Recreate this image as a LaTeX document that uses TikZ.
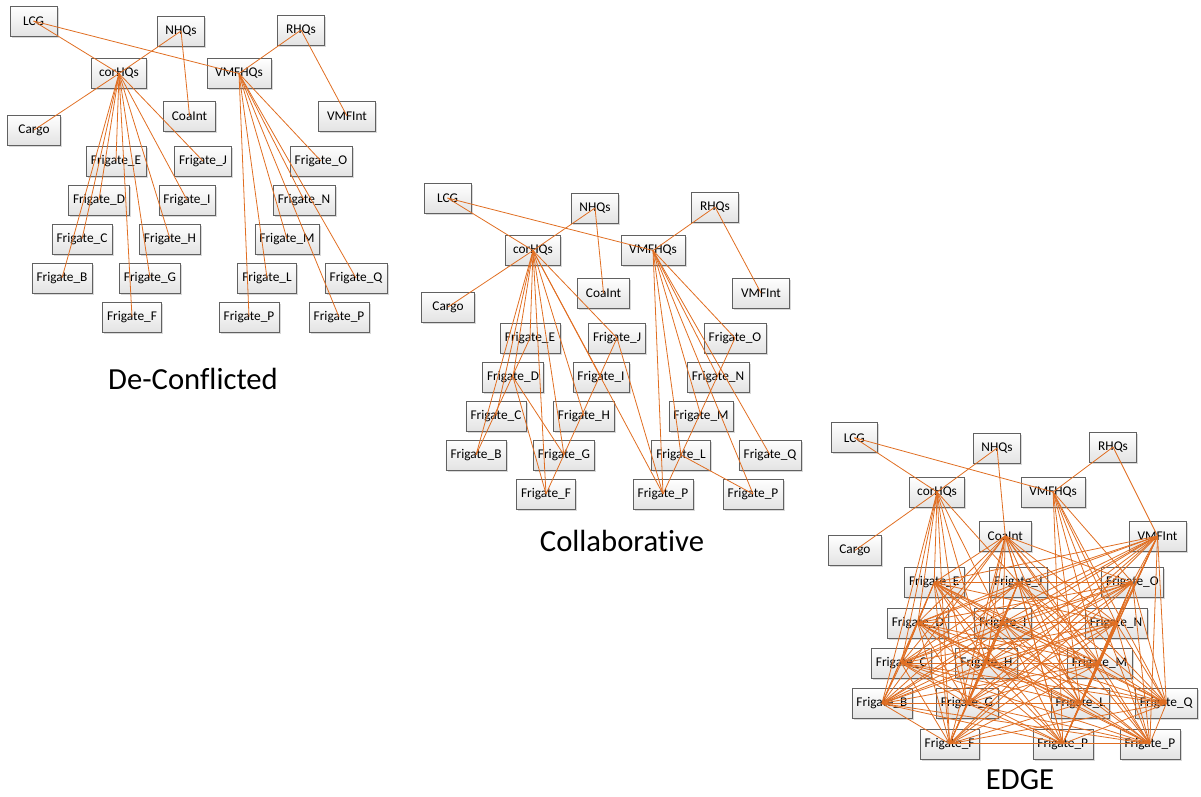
\documentclass[tikz,border=0pt]{standalone}
\usepackage{fontspec}
\setmainfont{Carlito}[Ligatures=NoCommon]
\usepackage{tikz}
\usetikzlibrary{shadows}

\definecolor{linkorange}{RGB}{224,110,34}

\tikzset{
  unitbox/.style={draw=black!62, top color=white, bottom color=black!11,
    minimum width=35pt, minimum height=22.5pt, inner xsep=3.5pt,
    font=\fontsize{10}{12}\selectfont,
    drop shadow={shadow xshift=1.3pt, shadow yshift=-1.3pt, opacity=0.25, fill=black!60}},
  orgline/.style={draw=linkorange, line width=0.6pt},
  paneltitle/.style={font=\fontsize{23}{28}\selectfont}
}

% one fleet, placed as in the first panel
\newcommand{\fleetnodes}{%
  \node[unitbox] (LCG) at (33.5,21) {LCG};
  \node[unitbox] (NHQs) at (181,31) {NHQs};
  \node[unitbox] (RHQs) at (301,30) {RHQs};
  \node[unitbox, minimum width=41pt] (corHQs) at (119,73.5) {corHQs};
  \node[unitbox, minimum width=48pt] (VMFHQs) at (239,73.5) {VMFHQs};
  \node[unitbox, minimum width=40pt] (Cargo) at (34,130) {Cargo};
  \node[unitbox, minimum width=39pt] (CoaInt) at (189.5,116) {CoaInt};
  \node[unitbox, minimum width=43pt] (VMFInt) at (347,116) {VMFInt};
  \node[unitbox] (fE) at (116,161) {Frigate\_E};
  \node[unitbox] (fJ) at (203,161) {Frigate\_J};
  \node[unitbox] (fO) at (321,161) {Frigate\_O};
  \node[unitbox] (fD) at (99,200) {Frigate\_D};
  \node[unitbox] (fI) at (187,200) {Frigate\_I};
  \node[unitbox] (fN) at (304,200) {Frigate\_N};
  \node[unitbox] (fC) at (82,239) {Frigate\_C};
  \node[unitbox] (fH) at (170,239) {Frigate\_H};
  \node[unitbox] (fM) at (287,239) {Frigate\_M};
  \node[unitbox] (fB) at (62,278) {Frigate\_B};
  \node[unitbox] (fG) at (150,278) {Frigate\_G};
  \node[unitbox] (fL) at (267,278) {Frigate\_L};
  \node[unitbox] (fQ) at (356,278) {Frigate\_Q};
  \node[unitbox] (fF) at (132,317) {Frigate\_F};
  \node[unitbox] (fP1) at (249,317) {Frigate\_P};
  \node[unitbox] (fP2) at (339,317) {Frigate\_P};
}

% command lines common to all three panels
\newcommand{\baselinks}{%
  \draw[orgline] (LCG.center) -- (corHQs.center);
  \draw[orgline] (LCG.center) -- (VMFHQs.center);
  \draw[orgline] (NHQs.center) -- (corHQs.center);
  \draw[orgline] (corHQs.center) -- (Cargo.center);
  \draw[orgline] (NHQs.center) -- (CoaInt.center);
  \draw[orgline] (RHQs.center) -- (VMFHQs.center);
  \draw[orgline] (RHQs.center) -- (VMFInt.center);
  \foreach \f in {fB,fC,fD,fE,fF,fG,fH,fI,fJ}
    \draw[orgline] (corHQs.center) -- (\f.center);
  \foreach \f in {fL,fM,fN,fO,fP1,fP2,fQ}
    \draw[orgline] (VMFHQs.center) -- (\f.center);
}

\begin{document}
\begin{tikzpicture}[x=0.75pt, y=-0.75pt]
  % Page size
  \useasboundingbox (0,0) rectangle (1201,796);

  % De-Conflicted
  \begin{scope}[name prefix=dc-]
    \fleetnodes
    \baselinks
  \end{scope}
  \node[paneltitle] (dc-title) at (193,379) {De-Conflicted};

  % Collaborative
  \begin{scope}[name prefix=co-, shift={(414,177)}]
    \fleetnodes
    \baselinks
    \draw[orgline] (corHQs.center) -- (fP1.center);
    \draw[orgline] (fE.center) -- (fB.center);
    \draw[orgline] (fD.center) -- (fG.center);
    \draw[orgline] (fD.center) -- (fF.center);
    \draw[orgline] (fJ.center) -- (fF.center);
    \draw[orgline] (fJ.center) -- (fP1.center);
    \draw[orgline] (fO.center) -- (fP1.center);
    \draw[orgline] (fL.center) -- (fP2.center);
  \end{scope}
  \node[paneltitle] (co-title) at (622,541) {Collaborative};

  % EDGE
  \begin{scope}[name prefix=ed-, shift={(822,416)}, xscale=0.967, yscale=1.034]
    \fleetnodes
    \baselinks
    \foreach \a [count=\i] in {fB,fC,fD,fE,fF,fG,fH,fI,fJ,fL,fM,fN,fO,fP1,fP2,fQ} {
      \draw[orgline] (CoaInt.center) -- (\a.center);
      \draw[orgline] (VMFInt.center) -- (\a.center);
      \foreach \b [count=\j] in {fB,fC,fD,fE,fF,fG,fH,fI,fJ,fL,fM,fN,fO,fP1,fP2,fQ} {
        \ifnum\j>\i \draw[orgline] (\a.center) -- (\b.center); \fi
      }
    }
  \end{scope}
  \node[paneltitle] (ed-title) at (1020,780) {EDGE};
\end{tikzpicture}
\end{document}
